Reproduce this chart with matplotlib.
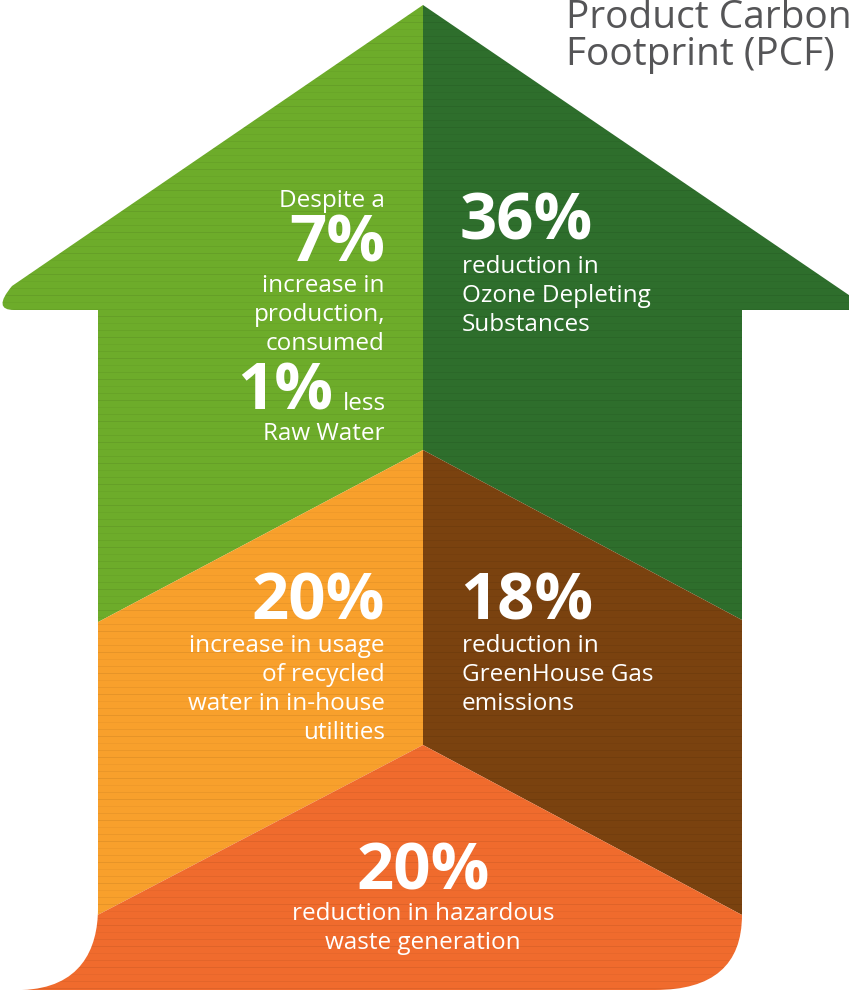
import matplotlib
matplotlib.use('Agg')
import matplotlib.pyplot as plt
from matplotlib.path import Path
from matplotlib.patches import PathPatch, Polygon
import numpy as np

plt.rcParams['font.family'] = ['Open Sans', 'DejaVu Sans']

# --- data ---
title_lines = ['Product Carbon', 'Footprint (PCF)']
headline = ['7%', '1%', '36%', '20%', '18%', '20%']
caption_water_top = ['Despite a']
caption_water_mid = ['increase in', 'production,', 'consumed']
caption_water_end = ['Raw Water']
caption_ods = ['reduction in', 'Ozone Depleting', 'Substances']
caption_recycled = ['increase in usage', 'of recycled', 'water in in-house', 'utilities']
caption_ghg = ['reduction in', 'GreenHouse Gas', 'emissions']
caption_waste = ['reduction in hazardous', 'waste generation']

colors = {
    'light_green': '#6dac2a',
    'dark_green': '#2e6e2c',
    'orange': '#f8a02c',
    'brown': '#7a420f',
    'red': '#f06b2d',
}

W, H = 849, 991
fig = plt.figure(figsize=(W / 100, H / 100), dpi=100)
ax = fig.add_axes([0, 0, 1, 1])
ax.set_xlim(0, W)
ax.set_ylim(H, 0)
ax.axis('off')

# arrow / house outline
verts = [
    (423, 5), (865, 306), (865, 310), (742, 310),
    (742, 915), (742, 990), (655, 990),
    (22, 990), (80, 988), (98, 950), (98, 908),
    (98, 310), (14, 310),
    (-8, 310), (12, 286),
    (423, 5),
]
codes = [Path.MOVETO, Path.LINETO, Path.LINETO, Path.LINETO,
         Path.LINETO, Path.CURVE3, Path.CURVE3,
         Path.LINETO, Path.CURVE4, Path.CURVE4, Path.CURVE4,
         Path.LINETO, Path.LINETO,
         Path.CURVE3, Path.CURVE3,
         Path.CLOSEPOLY]
outline = PathPatch(Path(verts, codes), facecolor='none', edgecolor='none')
ax.add_patch(outline)

regions = [
    ([(0, 0), (423, 0), (423, 450), (0, 674)], colors['light_green']),
    ([(423, 0), (W, 0), (W, 677), (423, 450)], colors['dark_green']),
    ([(0, 674), (423, 450), (423, 745), (0, 966)], colors['orange']),
    ([(423, 450), (W, 677), (W, 972), (423, 745)], colors['brown']),
    ([(0, 966), (423, 745), (W, 972), (W, H), (0, H)], colors['red']),
]
for pts, c in regions:
    poly = Polygon(pts, closed=True, facecolor=c, edgecolor='none')
    ax.add_patch(poly)
    poly.set_clip_path(outline)

# faint horizontal streaks for the paper texture
for i, y in enumerate(np.arange(8, H, 7)):
    ln, = ax.plot([0, W], [y, y], color='black', lw=0.6,
                  alpha=0.035 + 0.025 * (i % 3))
    ln.set_clip_path(outline)

big = dict(color='white', fontsize=47, fontweight='bold')
small = dict(color='white', fontsize=17.5, fontweight='normal')
step = 29

# title (runs off the right edge, as in the source)
ax.text(566, 28, title_lines[0], color='#555557', fontsize=28,
        va='baseline', clip_on=False)
ax.text(566, 65, title_lines[1], color='#555557', fontsize=28,
        va='baseline', clip_on=False)

# top left: water
ax.text(385, 207, caption_water_top[0], ha='right', va='baseline', **small)
ax.text(385, 262, headline[0], ha='right', va='baseline', **big)
for k, s in enumerate(caption_water_mid):
    ax.text(385, 292 + k * step, s, ha='right', va='baseline', **small)
ax.text(386, 410, 'less', ha='right', va='baseline', **small)
ax.text(333, 410, headline[1], ha='right', va='baseline', **big)
ax.text(385, 440, caption_water_end[0], ha='right', va='baseline', **small)

# top right: ODS
ax.text(460, 240, headline[2], ha='left', va='baseline', **big)
for k, s in enumerate(caption_ods):
    ax.text(462, 273 + k * step, s, ha='left', va='baseline', **small)

# mid left: recycled water
ax.text(385, 620, headline[3], ha='right', va='baseline', **big)
for k, s in enumerate(caption_recycled):
    ax.text(385, 652 + k * step, s, ha='right', va='baseline', **small)

# mid right: GHG
ax.text(460, 620, headline[4], ha='left', va='baseline', **big)
for k, s in enumerate(caption_ghg):
    ax.text(462, 652 + k * step, s, ha='left', va='baseline', **small)

# bottom: waste
ax.text(423, 890, headline[5], ha='center', va='baseline', **big)
for k, s in enumerate(caption_waste):
    ax.text(423, 920 + k * step, s, ha='center', va='baseline', **small)

fig.savefig('out.png', dpi=100)
